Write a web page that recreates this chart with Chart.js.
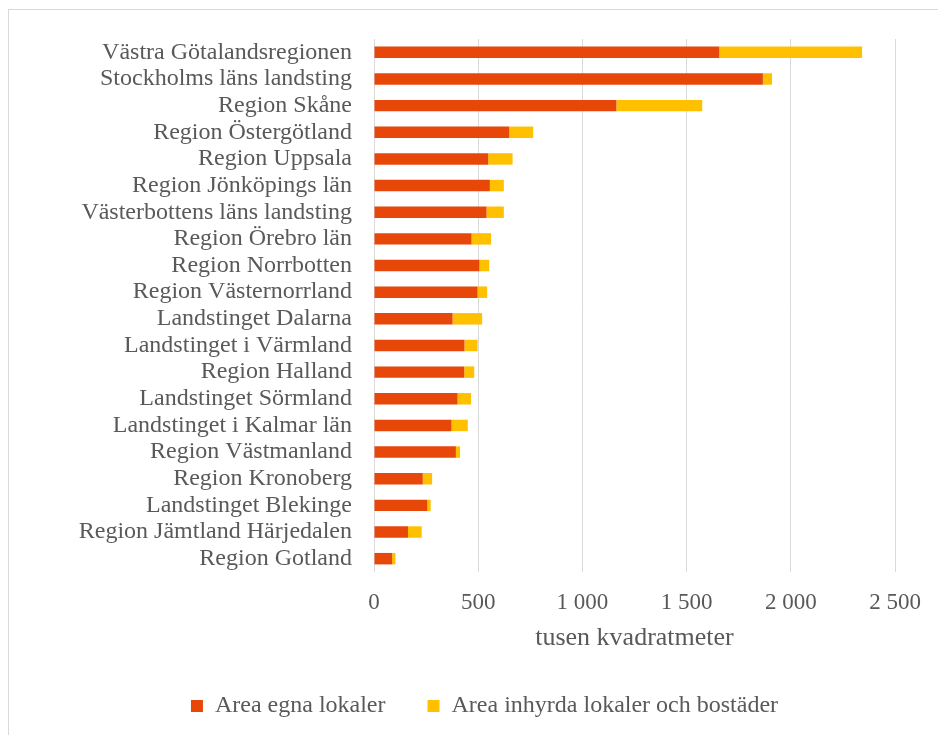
<!DOCTYPE html>
<html>
<head>
<meta charset="utf-8">
<script src="https://cdn.jsdelivr.net/npm/chart.js@4"></script>
<style>
html,body{margin:0;padding:0;background:#fff;}
#wrap{position:relative;width:938px;height:735px;}
#frame{position:absolute;left:8px;top:9px;width:940px;height:740px;border:1px solid #d9d9d9;box-sizing:border-box;}
canvas{position:absolute;left:0;top:0;}
</style>
</head>
<body>
<div id="wrap"><div id="frame"></div><canvas id="c" width="938" height="735"></canvas></div>
<script>
const categories = [
  "Västra Götalandsregionen","Stockholms läns landsting","Region Skåne","Region Östergötland",
  "Region Uppsala","Region Jönköpings län","Västerbottens läns landsting","Region Örebro län",
  "Region Norrbotten","Region Västernorrland","Landstinget Dalarna","Landstinget i Värmland",
  "Region Halland","Landstinget Sörmland","Landstinget i Kalmar län","Region Västmanland",
  "Region Kronoberg","Landstinget Blekinge","Region Jämtland Härjedalen","Region Gotland"
];
const egnaLokaler = [1657,1866,1163,649,548,556,540,468,506,497,377,434,433,401,372,393,234,256,163,87];
const inhyrdaLokaler = [685,44,412,115,117,67,83,94,47,46,142,63,48,65,78,20,45,16,66,16];
const xTicks = [0,500,1000,1500,2000,2500];
const seriesNames = ["Area egna lokaler","Area inhyrda lokaler och bostäder"];
const axisTitle = "tusen kvadratmeter";

const FONT = "'Liberation Serif','Times New Roman',serif";
const TXT = "#595959";

new Chart(document.getElementById('c'), {
  type: 'bar',
  data: {
    labels: categories,
    datasets: [
      {label: seriesNames[0], data: egnaLokaler, backgroundColor: '#E8470A', barPercentage: 0.43, categoryPercentage: 1},
      {label: seriesNames[1], data: inhyrdaLokaler, backgroundColor: '#FFC000', barPercentage: 0.43, categoryPercentage: 1}
    ]
  },
  options: {
    indexAxis: 'y',
    responsive: false,
    animation: false,
    devicePixelRatio: 1,
    layout: {padding: {top: 39, right: 43, left: 74, bottom: 7}},
    scales: {
      x: {
        stacked: true,
        min: 0, max: 2500,
        afterBuildTicks: s => { s.ticks = xTicks.map(v => ({value: v})); },
        afterFit: s => { s.height = 80; },
        grid: {color: '#d9d9d9', lineWidth: 1, drawTicks: false},
        border: {display: false},
        ticks: {
          color: TXT, font: {family: FONT, size: 23}, padding: 17,
          callback: v => String(v).replace(/\B(?=(\d{3})+(?!\d))/g, ' ')
        },
        title: {display: true, text: axisTitle, color: TXT, font: {family: FONT, size: 26}, padding: {top: 0, bottom: -2}}
      },
      y: {
        stacked: true,
        afterFit: s => { s.width = 300; },
        grid: {display: false},
        border: {display: false},
        ticks: {color: TXT, font: {family: FONT, size: 24}, padding: 14, autoSkip: false}
      }
    },
    plugins: {
      legend: {
        position: 'bottom',
        labels: {color: TXT, font: {family: FONT, size: 24}, boxWidth: 12, boxHeight: 12, padding: 42}
      },
      tooltip: {enabled: false}
    }
  }
});
</script>
</body>
</html>
